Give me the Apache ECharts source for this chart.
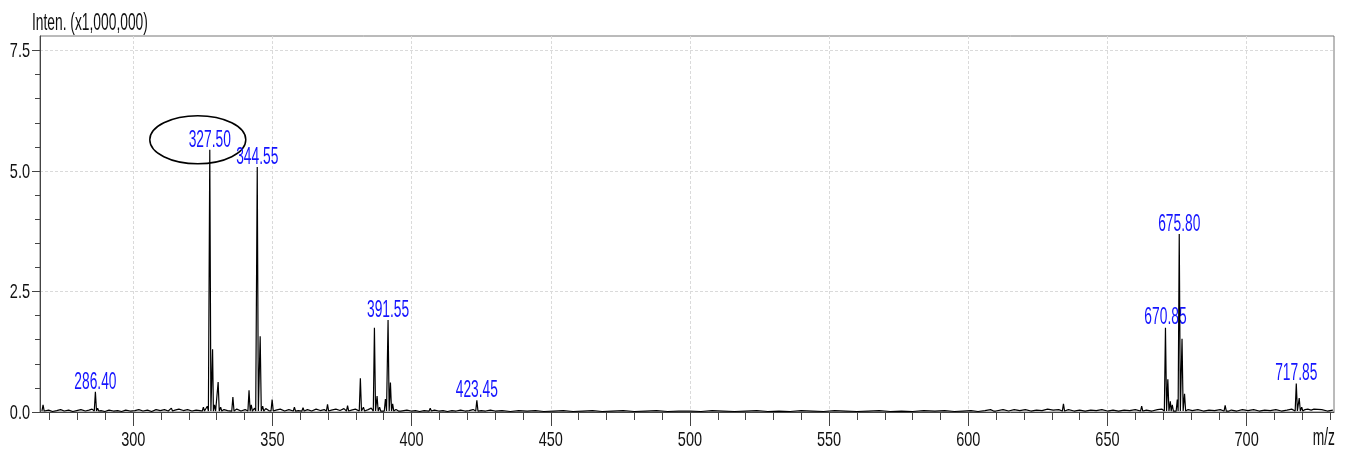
<!DOCTYPE html>
<html><head><meta charset="utf-8">
<script src="https://cdn.jsdelivr.net/npm/echarts@6/dist/echarts.min.js"></script>
<style>html,body{margin:0;padding:0;background:#fff}#c{width:1354px;height:453px}</style>
</head><body><div id="c"></div>
<script>
const FONT = "'Liberation Sans', Arial, sans-serif";
const xMajorTicks = [300,350,400,450,500,550,600,650,700];
const xMinorTicks = [270,280,290,300,310,320,330,340,350,360,370,380,390,400,410,420,430,440,450,460,470,480,490,500,510,520,530,540,550,560,570,580,590,600,610,620,630,640,650,660,670,680,690,700,710,720,730];
const yMajorTicks = [0,2.5,5,7.5];
const yMinorTicks = [0,0.5,1,1.5,2,2.5,3,3.5,4,4.5,5,5.5,6,6.5,7,7.5];
const xTickLabels = ['300','350','400','450','500','550','600','650','700'];
const yTickLabels = ['0.0','2.5','5.0','7.5'];
const yTitle = 'Inten. (x1,000,000)';
const xTitle = 'm/z';

// peaks: [m/z, intensity (x1,000,000)]
const peaks = [
[267.6,0.15],[286.4,0.42],[287.2,0.08],[313.7,0.08],[325.2,0.10],[326.6,0.12],
[327.5,5.44],[328.5,1.30],[329.2,0.15],[330.5,0.62],[331.4,0.10],[335.8,0.31],
[341.6,0.45],[342.4,0.15],[343.6,0.08],[344.55,5.08],[345.6,1.57],[346.5,0.12],
[349.9,0.26],[357.9,0.10],[361.0,0.09],[369.8,0.16],[377.0,0.13],[381.6,0.70],
[382.7,0.10],[386.65,1.75],[387.6,0.33],[388.5,0.10],[390.6,0.27],[391.55,1.91],
[392.4,0.61],[393.2,0.17],[395.7,0.06],[406.7,0.08],[423.45,0.24],[609.5,0.06],
[634.2,0.17],[662.3,0.12],[670.85,1.75],[671.7,0.68],[672.6,0.22],[673.3,0.15],
[675.1,0.26],[675.8,3.69],[676.8,1.52],[677.7,0.38],[692.3,0.14],[693.3,0.06],
[717.85,0.59],[718.9,0.29],[719.8,0.10],[722.0,0.06],[724.2,0.06]
];
// baseline noise: [m/z, intensity]
const noise = [
[266.8,0.05],[268.4,0.02],[269.6,0.04],[271.0,0.01],[272.5,0.03],[273.9,0.05],[275.2,0.02],[276.8,0.04],[278.3,0.01],[279.7,0.03],[281.2,0.05],[282.8,0.02],[284.1,0.04],[285.2,0.06],
[288.4,0.03],[289.8,0.01],[291.3,0.04],[292.9,0.02],[294.4,0.03],[295.8,0.01],[297.3,0.04],[298.9,0.02],[300.6,0.03],[302.0,0.05],[303.5,0.02],[305.1,0.04],[306.6,0.01],[308.2,0.05],[309.7,0.03],[311.2,0.05],[312.6,0.02],[315.0,0.04],[316.4,0.06],[318.0,0.03],[319.5,0.05],[321.1,0.02],[322.6,0.04],[324.0,0.03],
[332.6,0.05],[333.9,0.03],[337.2,0.06],[338.7,0.02],[340.2,0.05],[347.6,0.07],[348.7,0.03],[351.3,0.04],[352.8,0.06],[354.4,0.02],[355.9,0.05],[359.3,0.03],[362.6,0.05],[364.1,0.02],[365.7,0.06],[367.2,0.03],[368.6,0.05],[371.2,0.04],[372.8,0.06],[374.3,0.03],[375.7,0.07],[378.4,0.04],[379.8,0.06],[384.4,0.05],[385.5,0.08],[389.3,0.06],[394.4,0.05],[396.8,0.03],[398.3,0.04],[399.8,0.02],[401.4,0.03],[402.9,0.01],[404.5,0.03],[408.2,0.04],[409.8,0.02],[411.3,0.03],[412.9,0.01],[414.5,0.03],[416.0,0.02],[417.6,0.04],[419.2,0.02],[420.7,0.03],[422.1,0.05],[425.0,0.03],[426.6,0.02],[428.3,0.04],
[430.0,0.02],[432.5,0.03],[435.5,0.01],[438.5,0.03],[441.5,0.02],[444.5,0.03],[447.5,0.01],[451.0,0.02],[454.5,0.03],[458.0,0.01],[461.5,0.02],[465.0,0.03],[468.5,0.01],[472.0,0.02],[476.0,0.03],[480.0,0.01],[484.0,0.02],[488.0,0.03],[492.0,0.01],[496.0,0.02],[500.0,0.02],[504.0,0.01],[508.0,0.03],[512.0,0.02],[516.0,0.01],[520.0,0.02],[524.0,0.03],[528.0,0.01],[532.0,0.02],[536.0,0.01],[540.0,0.03],[544.0,0.02],[548.0,0.01],[552.0,0.03],[556.0,0.02],[560.0,0.01],[564.0,0.02],[568.0,0.03],[572.0,0.01],[576.0,0.02],[580.0,0.01],[584.0,0.03],[588.0,0.02],[591.5,0.03],[595.0,0.01],[598.0,0.02],
[601.0,0.03],[603.5,0.01],[606.0,0.03],[608.0,0.05],[610.5,0.03],[612.5,0.05],[614.5,0.02],[616.5,0.05],[618.5,0.03],[620.5,0.05],[622.5,0.02],[624.5,0.04],[626.5,0.03],[628.5,0.06],[630.5,0.04],[632.5,0.05],[636.0,0.05],[638.0,0.02],[640.0,0.04],[642.0,0.02],[644.0,0.04],[646.0,0.03],[648.0,0.05],[650.0,0.02],[652.0,0.04],[654.0,0.02],[656.0,0.04],[658.0,0.03],[660.0,0.05],[664.0,0.04],[666.0,0.02],[668.0,0.05],[669.5,0.06],[674.3,0.10],
[679.0,0.05],[680.5,0.03],[682.5,0.05],[684.5,0.02],[686.5,0.04],[688.5,0.03],[690.5,0.05],[694.5,0.04],[696.5,0.02],[698.5,0.05],[700.5,0.03],[702.5,0.05],[704.5,0.02],[706.5,0.04],[708.5,0.03],[710.5,0.05],[712.5,0.02],[714.5,0.04],[716.2,0.06],[721.0,0.05],[723.2,0.04],[725.0,0.03],[727.0,0.05],[729.0,0.02],[731.0,0.04]
];
// annotated peaks
const labelMz = ['286.40','327.50','344.55','391.55','423.45','670.85','675.80','717.85'];
const labelInt = [0.42,5.44,5.08,1.91,0.24,1.75,3.69,0.59];
const circledLabel = '327.50';

const BASE = 0.02, HALF = 0.4;
const pts = [];
peaks.forEach(([m,h]) => { pts.push([m-HALF,BASE],[m,h],[m+HALF,BASE]); });
noise.forEach(([m,h]) => { if (peaks.every(p => Math.abs(p[0]-m) > 0.9)) pts.push([m,h]); });
pts.sort((a,b) => a[0]-b[0]);

const XMIN = 266.5, XMAX = 731.4, YMIN = 0, YMAX = 7.8;
const axisColor = '#444';
const gridStyle = {color:'#dadada', type:[3,2], width:1};
const chart = echarts.init(document.getElementById('c'), null, {renderer:'canvas'});
chart.setOption({
  animation: false,
  backgroundColor: '#fff',
  grid: {left: 40, right: 20, top: 36, bottom: 41, show: true, borderColor: '#777', borderWidth: 1},
  xAxis: [
    {type:'value', min:XMIN, max:XMAX, position:'bottom',
     axisLine:{show:true, lineStyle:{color:axisColor, width:1}},
     axisTick:{show:true, customValues:xMajorTicks, length:14, lineStyle:{color:axisColor}},
     axisLabel:{show:false, customValues:xMajorTicks},
     splitLine:{show:true, lineStyle:gridStyle}},
    {type:'value', min:XMIN, max:XMAX, position:'bottom',
     axisLine:{show:false},
     axisTick:{show:true, customValues:xMinorTicks, length:8, lineStyle:{color:axisColor}},
     axisLabel:{show:false}, splitLine:{show:false}}
  ],
  yAxis: [
    {type:'value', min:YMIN, max:YMAX, position:'left',
     axisLine:{show:true, lineStyle:{color:axisColor, width:1}},
     axisTick:{show:true, customValues:yMajorTicks, length:8, lineStyle:{color:axisColor}},
     axisLabel:{show:false, customValues:yMajorTicks},
     splitLine:{show:true, lineStyle:gridStyle}},
    {type:'value', min:YMIN, max:YMAX, position:'left',
     axisLine:{show:false},
     axisTick:{show:true, customValues:yMinorTicks, length:5, lineStyle:{color:axisColor}},
     axisLabel:{show:false}, splitLine:{show:false}}
  ],
  series: [{
    type:'line', xAxisIndex:0, yAxisIndex:0, data: pts, showSymbol:false, symbol:'none',
    lineStyle:{color:'#000', width:1.2}, silent:true
  }]
});

function drawGraphics(){
  const g = [];
  const px = (x,y) => chart.convertToPixel({xAxisIndex:0, yAxisIndex:0}, [x,y]);
  const y0 = px(XMIN, YMIN)[1];
  const x0 = px(XMIN, YMIN)[0];
  xMajorTicks.forEach((v,i) => {
    g.push({type:'text', x:px(v,YMIN)[0], y:y0+28, scaleX:0.69,
      style:{text:xTickLabels[i], textAlign:'center', textVerticalAlign:'middle', fill:'#111', font:'21px ' + FONT}});
  });
  yMajorTicks.forEach((v,i) => {
    g.push({type:'text', x:x0-10, y:px(XMIN,v)[1]+1, scaleX:0.69,
      style:{text:yTickLabels[i], textAlign:'right', textVerticalAlign:'middle', fill:'#111', font:'21px ' + FONT}});
  });
  labelMz.forEach((t,i) => {
    const p = px(parseFloat(t), labelInt[i]);
    g.push({type:'text', x:p[0], y:p[1]+2, scaleX:0.6,
      style:{text:t, textAlign:'center', textVerticalAlign:'bottom', fill:'#1414ff', font:'23px ' + FONT}});
    if (t === circledLabel) {
      g.push({type:'ellipse', shape:{cx:p[0]-12, cy:p[1]-10, rx:48, ry:24},
        style:{fill:'none', stroke:'#000', lineWidth:1.5}});
    }
  });
  g.push({type:'text', x:32, y:12, scaleX:0.6,
    style:{text:yTitle, textAlign:'left', textVerticalAlign:'top', fill:'#111', font:'23px ' + FONT}});
  g.push({type:'text', x:1335, y:y0+27, scaleX:0.6,
    style:{text:xTitle, textAlign:'right', textVerticalAlign:'middle', fill:'#111', font:'23px ' + FONT}});
  chart.setOption({graphic: g});
}
drawGraphics();
</script></body></html>
